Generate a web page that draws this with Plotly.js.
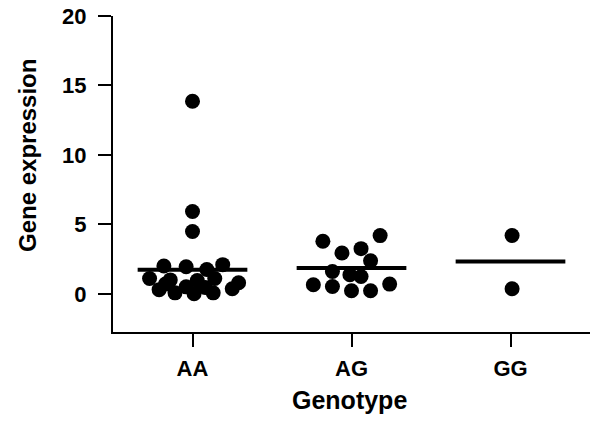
<!DOCTYPE html>
<html>
<head>
<meta charset="utf-8">
<script src="https://cdn.plot.ly/plotly-3.0.1.min.js"></script>
<style>html,body{margin:0;padding:0;background:#fff;}#chart{width:600px;height:431px;}</style>
</head>
<body>
<div id="chart"></div>
<script>
const categories = ['AA', 'AG', 'GG'];
const aaValues  = [13.86, 5.93, 4.49, 2.0, 1.95, 1.75, 2.1, 1.1, 1.0, 0.95, 1.1, 0.8, 0.3, 0.07, 0.0, 0.07, 0.36, 0.5, 0.45, 0.7];
const aaOffsets = [0.0, 0.0, 0.0, -0.18, -0.04, 0.09, 0.19, -0.27, -0.14, 0.03, 0.14, 0.29, -0.21, -0.11, 0.01, 0.13, 0.25, -0.04, 0.08, -0.17];
const agValues  = [3.78, 2.94, 3.25, 4.19, 2.38, 1.61, 1.37, 1.25, 0.65, 0.53, 0.22, 0.22, 0.70];
const agOffsets = [-0.18, -0.06, 0.06, 0.18, 0.12, -0.12, -0.01, 0.06, -0.24, -0.12, 0.0, 0.12, 0.24];
const ggValues  = [4.2, 0.36];
const ggOffsets = [0.01, 0.01];
const groupMeans = [1.73, 1.85, 2.33];
const yTicks = [0, 5, 10, 15, 20];

const groups = [
  {vals: aaValues, offs: aaOffsets},
  {vals: agValues, offs: agOffsets},
  {vals: ggValues, offs: ggOffsets}
];

const traces = [];
groups.forEach((g, i) => {
  traces.push({
    type: 'scatter', mode: 'markers',
    x: g.offs.map(o => i + o), y: g.vals,
    marker: {color: '#000', size: 15, line: {width: 0}},
    hoverinfo: 'y', showlegend: false, cliponaxis: false
  });
});
const halfW = 0.345;
groupMeans.forEach((m, i) => {
  traces.push({
    type: 'scatter', mode: 'lines',
    x: [i - halfW, i + halfW], y: [m, m],
    line: {color: '#000', width: 4},
    hoverinfo: 'skip', showlegend: false
  });
});

const font = {family: '"Liberation Sans", Arial, sans-serif', color: '#000'};
const layout = {
  width: 600, height: 431,
  margin: {l: 113, r: 10, t: 16, b: 99},
  paper_bgcolor: '#fff', plot_bgcolor: '#fff',
  font: font,
  showlegend: false,
  xaxis: {
    range: [-0.5, 2.5],
    tickmode: 'array', tickvals: [0, 1, 2], ticktext: categories.map(c => '<b>' + c + '</b>'),
    ticks: 'outside', ticklen: 13, tickwidth: 2, tickcolor: '#000',
    showline: true, linewidth: 2, linecolor: '#000',
    showgrid: false, zeroline: false,
    tickfont: {family: font.family, size: 22, color: '#000'},
    ticklabelstandoff: 3
  },
  yaxis: {
    range: [-2.75, 20],
    tickmode: 'array', tickvals: yTicks, ticktext: yTicks.map(t => '<b>' + t + '</b>'),
    ticks: 'outside', ticklen: 13, tickwidth: 2, tickcolor: '#000',
    showline: true, linewidth: 2, linecolor: '#000',
    showgrid: false, zeroline: false,
    tickfont: {family: font.family, size: 22, color: '#000'},
    ticklabelstandoff: 7
  },
  annotations: [
    {text: '<b>Gene expression</b>', xref: 'paper', yref: 'paper',
     x: (27 - 113) / 477, y: (332 - 156) / 316, xanchor: 'center', yanchor: 'middle',
     textangle: -90, showarrow: false, font: {family: font.family, size: 24, color: '#000'}},
    {text: '<b>Genotype</b>', xref: 'paper', yref: 'paper',
     x: (349 - 113) / 477, y: (332 - 400) / 316, xanchor: 'center', yanchor: 'middle',
     showarrow: false, font: {family: font.family, size: 25, color: '#000'}}
  ]
};

Plotly.newPlot('chart', traces, layout, {staticPlot: true, displayModeBar: false});
</script>
</body>
</html>
